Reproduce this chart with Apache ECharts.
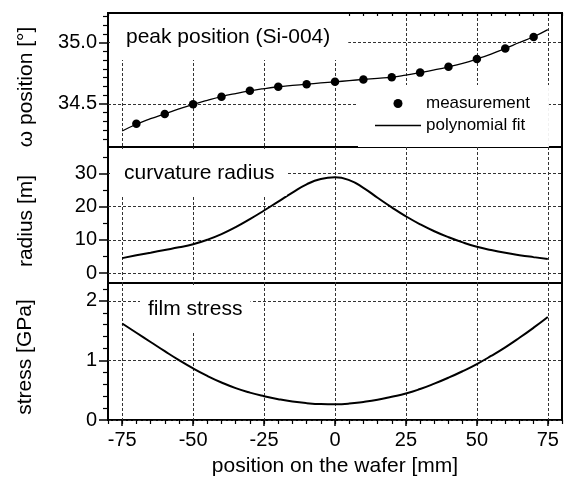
<!DOCTYPE html>
<html>
<head>
<meta charset="utf-8">
<script src="https://cdn.jsdelivr.net/npm/echarts@6/dist/echarts.min.js"></script>
<style>
  html, body { margin: 0; padding: 0; background: #fff; }
  #chart { width: 566px; height: 484px; }
</style>
</head>
<body>
<div id="chart"></div>
<script>
// measured peak positions (Si-004)
const measPositions = [-70, -60, -50, -40, -30, -20, -10, 0, 10, 20, 30, 40, 50, 60, 70]
const peakMeasured = [34.339, 34.419, 34.498, 34.559, 34.607, 34.640, 34.661, 34.680,
  34.699, 34.718, 34.755, 34.803, 34.866, 34.952, 35.045]

// curves every 5 mm
const curvePositions = [-75, -70, -65, -60, -55, -50, -45, -40, -35, -30, -25, -20, -15, -10, -5, 0,
  5, 10, 15, 20, 25, 30, 35, 40, 45, 50, 55, 60, 65, 70, 75]
const peakFit = [34.28, 34.335, 34.38, 34.42, 34.46, 34.497, 34.53, 34.56, 34.585, 34.607, 34.625,
  34.64, 34.651, 34.661, 34.671, 34.68, 34.69, 34.70, 34.709, 34.718, 34.735, 34.755, 34.777,
  34.802, 34.831, 34.866, 34.906, 34.952, 35.0, 35.047, 35.105]
const radiusValues = [4.5, 5.35, 6.15, 6.95, 7.75, 8.7, 10.05, 11.75, 13.85, 16.25, 18.85, 21.55,
  24.25, 26.75, 28.35, 28.85, 28.0, 25.7, 22.7, 19.8, 17.1, 14.7, 12.6, 10.8, 9.25, 7.95, 6.95,
  6.1, 5.4, 4.8, 4.25]
const stressValues = [1.62, 1.465, 1.31, 1.155, 1.005, 0.865, 0.74, 0.63, 0.535, 0.46, 0.40,
  0.35, 0.31, 0.283, 0.268, 0.265, 0.275, 0.303, 0.34, 0.39, 0.445, 0.52, 0.61, 0.71, 0.82, 0.94,
  1.075, 1.22, 1.38, 1.55, 1.73]

// ticks
const xTicks = [-75, -50, -25, 0, 25, 50, 75]
const peakTicks = [34.5, 35.0]
const peakMinorTicks = [34.214, 34.286, 34.357, 34.429, 34.571, 34.643, 34.714, 34.786, 34.857,
  34.929, 35.071, 35.143, 35.214]
const radiusTicks = [0, 10, 20, 30]
const radiusMinorTicks = [5, 15, 25, 35]
const stressTicks = [0, 1, 2]
const stressMinorTicks = [0.2, 0.4, 0.6, 0.8, 1.2, 1.4, 1.6, 1.8, 2.2]

const FONT = 'Liberation Sans, Arial, sans-serif'
const gridLine = { show: true, lineStyle: { color: '#333', width: 1, type: [3, 2] } }

var myChart = echarts.init(document.getElementById('chart'))

function pairs(xs, ys) {
  return xs.map((x, i) => [x, ys[i]])
}

// x axes: major (labels/grid lines) + minor ticks
function xMajor(gridIndex, withLabels) {
  return {
    type: 'value', gridIndex: gridIndex, min: -80, max: 80, position: 'bottom',
    axisLine: { show: false, onZero: false },
    axisTick: { show: withLabels, customValues: xTicks, length: 6, lineStyle: { color: '#000', width: 1.5 } },
    axisLabel: { show: withLabels, customValues: xTicks, margin: 10, fontSize: 20, fontFamily: FONT, color: '#000' },
    splitLine: gridLine,
    name: withLabels ? 'position on the wafer [mm]' : '',
    nameLocation: 'middle', nameGap: 36,
    nameTextStyle: { fontSize: 21, fontFamily: FONT, color: '#000' }
  }
}
function xMinor(gridIndex, position, inside, len) {
  return {
    type: 'value', gridIndex: gridIndex, min: -80, max: 80, interval: 5, position: position,
    axisLine: { show: false, onZero: false },
    axisTick: { show: true, inside: inside, length: len, lineStyle: { color: '#000', width: 1.2 } },
    axisLabel: { show: false },
    splitLine: { show: false }
  }
}
function yMajor(gridIndex, min, max, ticks, fmt) {
  return {
    type: 'value', gridIndex: gridIndex, min: min, max: max, position: 'left',
    axisLine: { show: false, onZero: false },
    axisTick: { show: true, customValues: ticks, length: 9, lineStyle: { color: '#000', width: 1.5 } },
    axisLabel: { customValues: ticks, margin: 11, fontSize: 20, fontFamily: FONT, color: '#000', formatter: fmt },
    splitLine: gridLine
  }
}
function yMinor(gridIndex, min, max, ticks) {
  return {
    type: 'value', gridIndex: gridIndex, min: min, max: max, position: 'left', offset: 0,
    axisLine: { show: false, onZero: false },
    axisTick: { show: true, customValues: ticks, length: 5, lineStyle: { color: '#000', width: 1.2 } },
    axisLabel: { show: false },
    splitLine: { show: false }
  }
}

const gridBase = { left: 108, right: 4, show: true, borderColor: '#000', borderWidth: 2, backgroundColor: 'transparent' }
const titleText = { fontSize: 21, fontWeight: 'normal', fontFamily: FONT, color: '#000' }

let option = {
  animation: false,
  backgroundColor: '#fff',
  grid: [
    Object.assign({ top: 13, height: 134 }, gridBase),
    Object.assign({ top: 147, height: 136 }, gridBase),
    Object.assign({ top: 283, height: 137 }, gridBase)
  ],
  title: [
    { text: 'peak position (Si-004)', left: 110, top: 14, padding: [13, 18, 12, 16], backgroundColor: '#fff', textStyle: titleText },
    { text: 'curvature radius', left: 110, top: 149, padding: [14, 12, 12, 14], backgroundColor: '#fff', textStyle: titleText },
    { text: 'film stress', left: 140, top: 285, padding: [14, 8, 11, 8], backgroundColor: '#fff', textStyle: titleText }
  ],
  legend: {
    data: [
      { name: 'measurement', icon: 'circle' },
      { name: 'polynomial fit', icon: 'path://M0,0 H46 V1.3 H0 Z' }
    ],
    orient: 'vertical', left: 358, top: 85,
    padding: [10, 19, 13, 17],
    backgroundColor: '#fff',
    itemWidth: 46, itemHeight: 9, itemGap: 5,
    selectedMode: false,
    textStyle: { fontSize: 17, fontFamily: FONT, color: '#000' }
  },
  xAxis: [
    xMajor(0, false),
    xMinor(0, 'top', true, 3),
    xMajor(1, false),
    xMajor(2, true),
    xMinor(2, 'bottom', false, 4)
  ],
  yAxis: [
    yMajor(0, 34.15, 35.24, peakTicks, v => v.toFixed(1)),
    yMinor(0, 34.15, 35.24, peakMinorTicks),
    yMajor(1, -3, 38, radiusTicks),
    yMinor(1, -3, 38, radiusMinorTicks),
    yMajor(2, 0, 2.3, stressTicks),
    yMinor(2, 0, 2.3, stressMinorTicks)
  ],
  graphic: [
    { type: 'text', x: 26, y: 87, rotation: Math.PI / 2, style: { text: 'ω position [°]', font: '21px ' + FONT, fill: '#000', textAlign: 'center', textVerticalAlign: 'middle' } },
    { type: 'text', x: 26, y: 221, rotation: Math.PI / 2, style: { text: 'radius [m]', font: '21px ' + FONT, fill: '#000', textAlign: 'center', textVerticalAlign: 'middle' } },
    { type: 'text', x: 25, y: 357, rotation: Math.PI / 2, style: { text: 'stress [GPa]', font: '21px ' + FONT, fill: '#000', textAlign: 'center', textVerticalAlign: 'middle' } }
  ],
  series: [
    {
      name: 'polynomial fit', type: 'line', xAxisIndex: 0, yAxisIndex: 0,
      data: pairs(curvePositions, peakFit), smooth: true, symbol: 'none',
      lineStyle: { color: '#000', width: 1.3 }, itemStyle: { color: '#000' }
    },
    {
      name: 'measurement', type: 'scatter', xAxisIndex: 0, yAxisIndex: 0,
      data: pairs(measPositions, peakMeasured), symbol: 'circle', symbolSize: 8.5,
      itemStyle: { color: '#000', opacity: 1 }
    },
    {
      name: 'radius', type: 'line', xAxisIndex: 2, yAxisIndex: 2,
      data: pairs(curvePositions, radiusValues), smooth: true, symbol: 'none',
      lineStyle: { color: '#000', width: 2 }
    },
    {
      name: 'stress', type: 'line', xAxisIndex: 3, yAxisIndex: 4,
      data: pairs(curvePositions, stressValues), smooth: true, symbol: 'none',
      lineStyle: { color: '#000', width: 2 }
    }
  ]
}
myChart.setOption(option)
</script>
</body>
</html>
